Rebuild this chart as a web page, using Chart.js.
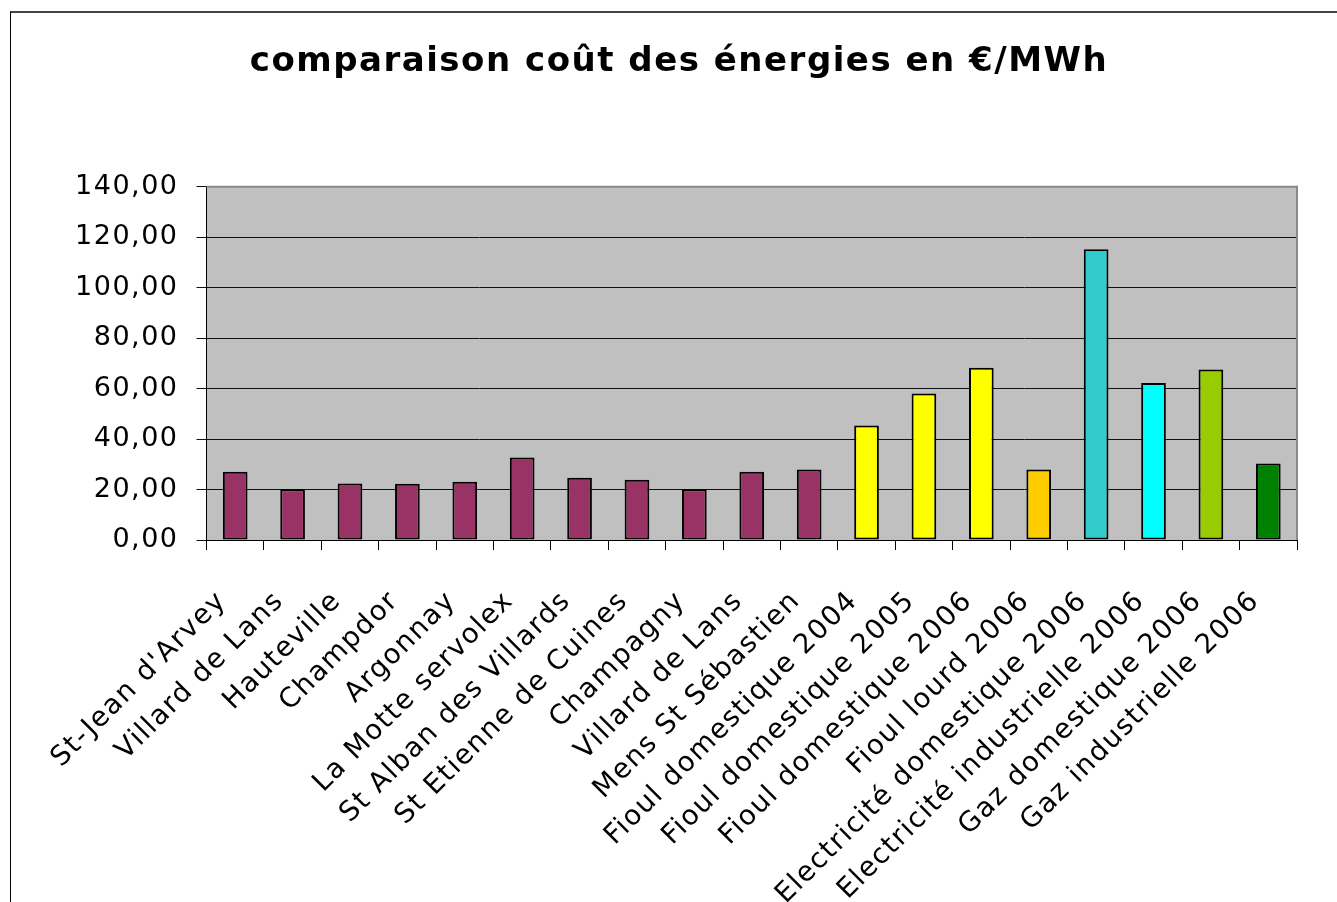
<!DOCTYPE html>
<html>
<head>
<meta charset="utf-8">
<script src="https://cdn.jsdelivr.net/npm/chart.js@4/dist/chart.umd.min.js"></script>
<style>
html,body{margin:0;padding:0;background:#fff;overflow:hidden;}
#wrap{position:relative;width:1337px;height:902px;}
#frame{position:absolute;left:10px;top:11px;width:1400px;height:1000px;border-left:1px solid #000;border-top:2px solid #444;pointer-events:none;}
canvas{position:absolute;left:0;top:0;}
</style>
</head>
<body>
<div id="wrap">
<canvas id="c" width="1337" height="902"></canvas>
<div id="frame"></div>
</div>
<script>
const categories = [
  "St-Jean d'Arvey","Villard de Lans","Hauteville","Champdor","Argonnay",
  "La Motte servolex","St Alban des Villards","St Etienne de Cuines","Champagny",
  "Villard de Lans","Mens St Sébastien","Fioul domestique 2004","Fioul domestique 2005",
  "Fioul domestique 2006","Fioul lourd 2006","Electricité domestique 2006",
  "Electricité industrielle 2006","Gaz domestique 2006","Gaz industrielle 2006"
];
const values = [27.1, 20.1, 22.4, 22.3, 23.1, 32.7, 24.7, 23.9, 20.1, 27.1, 27.9, 45.4, 58.1, 68.3, 27.9, 115.2, 62.2, 67.6, 30.3];
const barColors = [
  "#993366","#993366","#993366","#993366","#993366","#993366","#993366","#993366","#993366","#993366","#993366",
  "#FFFF00","#FFFF00","#FFFF00","#FFCC00","#33CCCC","#00FFFF","#99CC00","#008000"
];
const yTicks = [0,20,40,60,80,100,120,140];
const title = "comparaison coût des énergies en €/MWh";

const FONT = "'DejaVu Sans', Verdana, sans-serif";

const spacingPlugin = {
  id: 'spacing',
  beforeLayout(chart){ chart.ctx.letterSpacing = '1.5px'; },
  beforeDraw(chart){ chart.ctx.letterSpacing = '1.5px'; }
};
const plotBg = {
  id: 'plotBg',
  beforeDraw(chart){
    const {ctx, chartArea:a} = chart;
    ctx.save();
    ctx.fillStyle = '#C0C0C0';
    ctx.fillRect(a.left, a.top, a.right - a.left, a.bottom - a.top);
    ctx.restore();
  },
  afterDraw(chart){
    const {ctx, chartArea:a} = chart;
    ctx.save();
    ctx.strokeStyle = '#8a8a8a';
    ctx.lineWidth = 2;
    ctx.beginPath();
    ctx.moveTo(a.left, a.top);
    ctx.lineTo(a.right, a.top);
    ctx.lineTo(a.right, a.bottom);
    ctx.stroke();
    ctx.restore();
  }
};

new Chart(document.getElementById('c'), {
  type: 'bar',
  data: {
    labels: categories,
    datasets: [{
      data: values,
      backgroundColor: barColors,
      borderColor: '#000',
      borderWidth: 2,
      borderSkipped: false,
      barPercentage: 0.43,
      categoryPercentage: 1
    }]
  },
  options: {
    responsive: false,
    animation: false,
    events: [],
    layout: { padding: { left: 61, right: 40, top: 0, bottom: 0 } },
    plugins: {
      legend: { display: false },
      tooltip: { enabled: false },
      title: {
        display: true,
        text: title,
        color: '#000',
        font: { family: FONT, size: 34, weight: 'bold' },
        padding: { top: 42, bottom: 104 }
      }
    },
    scales: {
      y: {
        min: 0, max: 140,
        afterBuildTicks(scale){ scale.ticks = yTicks.map(v => ({value: v})); },
        afterFit(scale){ scale.width = 145.5; },
        ticks: {
          color: '#000',
          padding: 18,
          font: { family: FONT, size: 27 },
          callback: v => Number(v).toFixed(2).replace('.', ',')
        },
        grid: { color: '#111', lineWidth: 1, tickLength: 10 },
        border: { color: '#000', width: 1 }
      },
      x: {
        afterFit(scale){ scale.height = 362; },
        ticks: {
          color: '#000',
          minRotation: 45, maxRotation: 45,
          autoSkip: false,
          padding: 35,
          labelOffset: -13,
          font: { family: FONT, size: 27.5 }
        },
        grid: { drawOnChartArea: false, color: '#000', tickLength: 10, offset: true },
        border: { color: '#000', width: 1 }
      }
    }
  },
  plugins: [spacingPlugin, plotBg]
});
</script>
</body>
</html>
